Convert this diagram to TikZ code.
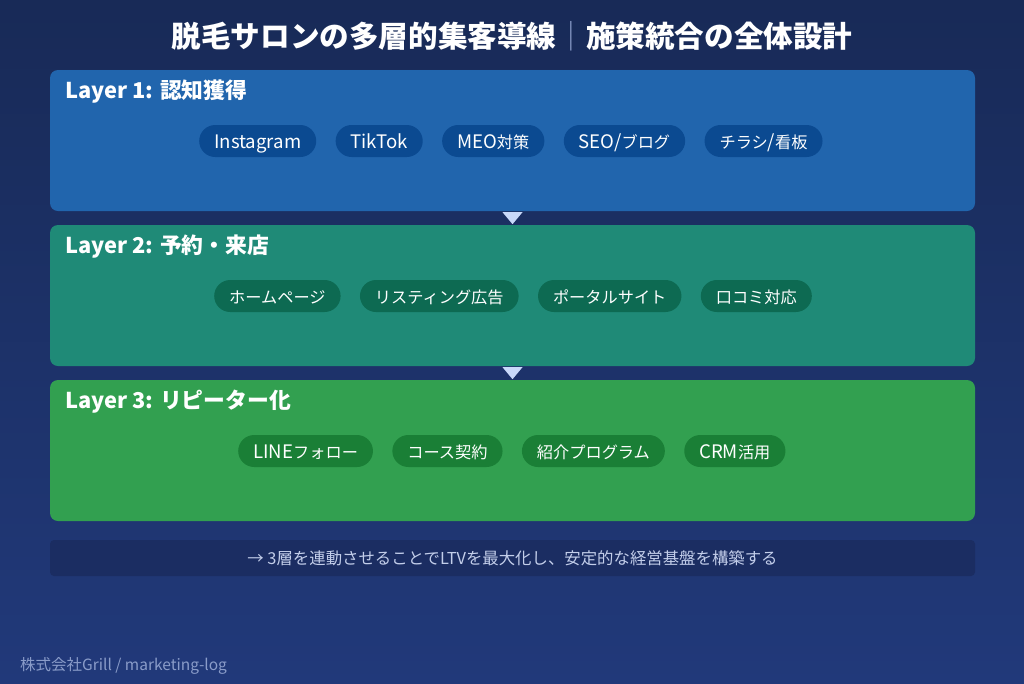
\documentclass[tikz,border=0pt]{standalone}
\usepackage{fontspec}
\setmainfont{Noto Sans CJK JP}
\usetikzlibrary{positioning}

\definecolor{bgtop}{HTML}{182A57}
\definecolor{bgbot}{HTML}{21397A}
\definecolor{layA}{HTML}{2165AD}
\definecolor{layB}{HTML}{1F8A77}
\definecolor{layC}{HTML}{32A050}
\definecolor{pillA}{HTML}{0B4A91}
\definecolor{pillB}{HTML}{0D6A52}
\definecolor{pillC}{HTML}{1A7F36}
\definecolor{tipcol}{HTML}{C9D9FA}
\definecolor{notebg}{HTML}{1B2D62}
\definecolor{notetx}{HTML}{C3CEEA}
\definecolor{foottx}{HTML}{8A9CC9}

% latin words in the pills run a bit larger
\newcommand{\lat}[1]{{\fontsize{18.6}{22}\selectfont #1}}

\begin{document}
\begin{tikzpicture}[x=1pt,y=-1pt,node distance=19pt]
\tikzstyle{layer}=[rounded corners=8pt,minimum width=925pt,minimum height=141pt,inner sep=0pt]
\tikzstyle{head}=[anchor=west,text=white,font=\fontsize{21.8}{26}\selectfont\bfseries,inner sep=0pt]
\tikzstyle{pill}=[rounded corners=16pt,minimum height=32pt,inner xsep=15pt,inner ysep=0pt,
  text height=15pt,text depth=1pt,text=white,font=\fontsize{16.2}{20}\selectfont]
\tikzstyle{tip}=[fill=tipcol]

% background
\shade[top color=bgtop,bottom color=bgbot] (0,0) rectangle (1024,683);
\useasboundingbox (0,0) rectangle (1024,683);

\node[text=white,font=\fontsize{29.6}{34}\selectfont\bfseries] (title) at (512,36)
  {脱毛サロンの多層的集客導線{\color{foottx}\fontseries{m}\selectfont｜}施策統合の全体設計};

% layer 1
\node[layer,fill=layA] (L1) at (512.5,140.5) {};
\node[head] (h1) at (65,92) {Layer 1: 認知獲得};
\node[pill,fill=pillA,anchor=west] (insta) at (199,141) {\lat{Instagram}};
\node[pill,fill=pillA,right=of insta] (tiktok) {\lat{TikTok}};
\node[pill,fill=pillA,right=of tiktok] (meo) {\lat{MEO}対策};
\node[pill,fill=pillA,right=of meo] (seo) {\lat{SEO/}ブログ};
\node[pill,fill=pillA,right=of seo] (flyer) {チラシ\lat{/}看板};

% layer 2
\node[layer,fill=layB] (L2) at (512.5,295.5) {};
\node[head] (h2) at (65,247) {Layer 2: 予約・来店};
\node[pill,fill=pillB,anchor=west] (home) at (214,296) {ホームページ};
\node[pill,fill=pillB,right=of home] (listing) {リスティング広告};
\node[pill,fill=pillB,right=of listing] (portal) {ポータルサイト};
\node[pill,fill=pillB,right=of portal] (review) {口コミ対応};

% layer 3
\node[layer,fill=layC] (L3) at (512.5,450.5) {};
\node[head] (h3) at (65,402) {Layer 3: リピーター化};
\node[pill,fill=pillC,anchor=west] (line) at (238,451) {\lat{LINE}フォロー};
\node[pill,fill=pillC,right=of line] (course) {コース契約};
\node[pill,fill=pillC,right=of course] (intro) {紹介プログラム};
\node[pill,fill=pillC,right=of intro] (crm) {\lat{CRM}活用};

% arrows between layers
\fill[tip] (L1.south) ++(-10,1) -- ++(20,0) -- ++(-10,12) -- cycle;
\fill[tip] (L2.south) ++(-10,1) -- ++(20,0) -- ++(-10,12) -- cycle;

% summary
\node[fill=notebg,rounded corners=4pt,minimum width=925pt,minimum height=36pt,
  text=notetx,font=\fontsize{16.4}{19}\selectfont] (note) at (512.5,558)
  {→ 3層を連動させることでLTVを最大化し、安定的な経営基盤を構築する};

\node[anchor=west,text=foottx,font=\fontsize{15.5}{18}\selectfont,inner sep=0pt] (foot) at (20,666)
  {株式会社Grill / marketing-log};
\end{tikzpicture}
\end{document}
